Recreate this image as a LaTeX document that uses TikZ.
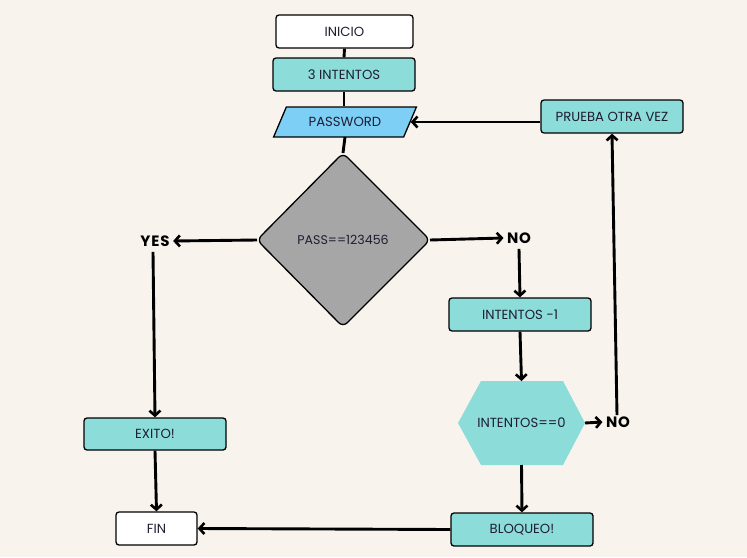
\documentclass[tikz,border=0pt]{standalone}
\usepackage{fontspec}
\setmainfont{Poppins}
\usetikzlibrary{arrows.meta,shapes.geometric}
\definecolor{bg}{RGB}{248,244,237}
\definecolor{teal}{RGB}{140,220,218}
\definecolor{sky}{RGB}{125,207,245}
\definecolor{graydia}{RGB}{166,166,166}
\definecolor{txt}{RGB}{30,30,50}
\tikzset{
  box/.style={draw=black, line width=1.3pt, rounded corners=3pt, minimum width=141pt, minimum height=33pt, inner sep=0pt, font=\fontsize{13.2}{15}\selectfont, text=txt},
  tealbox/.style={box, fill=teal},
  whitebox/.style={box, fill=white},
  lbl/.style={font=\fontsize{15}{17}\bfseries\addfontfeature{LetterSpace=6}\selectfont, text=black},
  conn/.style={line width=2.9pt, draw=black},
  arr/.style={conn, -{Straight Barb[length=5pt,width=11pt,line width=2.6pt]}},
}
\begin{document}
\begin{tikzpicture}[x=1pt,y=-1pt]
\fill[bg] (0,0) rectangle (747,557);
\useasboundingbox (0,0) rectangle (747,557);

% nodes
\node[whitebox, minimum width=137pt] (inicio) at (344.5,31.5) {INICIO};
\node[tealbox, minimum width=142pt] (intentos) at (344,74.5) {3 INTENTOS};
\node[trapezium, trapezium stretches=true, draw=black, line width=1.3pt, fill=sky, trapezium left angle=50, trapezium right angle=130, minimum width=143pt, minimum height=30pt, inner sep=0pt, font=\fontsize{13.2}{15}\selectfont, text=txt] (password) at (345,122) {PASSWORD};
\node[tealbox, minimum width=142pt] (prueba) at (612,116.5) {PRUEBA OTRA VEZ};

% diamond
\coordinate (dtop) at (343,153);
\coordinate (dleft) at (257,240);
\coordinate (dright) at (430,240);
\coordinate (dbot) at (343,327);
\fill[graydia, draw=black, line width=1.3pt, rounded corners=6pt] (dtop) -- (dright) -- (dbot) -- (dleft) -- cycle;
\node[font=\fontsize{12.6}{14}\selectfont, text=txt] (pass) at (343,240) {PASS==123456};

\node[lbl] (yes) at (155,241) {YES};
\node[lbl] (no1) at (519,238) {NO};
\node[tealbox, minimum width=142pt] (dec) at (520,314.5) {INTENTOS -1};

% hexagon
\fill[teal] (458,423) -- (481,381) -- (563,381) -- (585,423) -- (563,465) -- (481,465) -- cycle;
\coordinate (hexN) at (521.5,381);
\coordinate (hexE) at (585,423);
\coordinate (hexS) at (521.5,465);
\node[font=\fontsize{13.2}{15}\selectfont, text=txt] (hex) at (521.5,423) {INTENTOS==0};
\node[lbl] (no2) at (618,422) {NO};

\node[tealbox, minimum width=142pt] (bloqueo) at (522,529.5) {BLOQUEO!};
\node[whitebox, minimum width=81pt] (fin) at (156.5,528.5) {FIN};
\node[tealbox, minimum width=142pt, minimum height=32pt] (exito) at (155,434) {EXITO!};

% connectors
\draw[conn] (inicio.south) -- (intentos.north);
\draw[conn] (intentos.south) -- (password.north -| intentos.south);
\draw[conn] (345,137) -- (dtop);
\draw[arr] (dleft) -- (yes.east);
\draw[arr] (dright) -- (no1.west);
\draw[arr] (no1.south) ++(0,2) -- (dec.north);
\draw[arr] (prueba.west) ++(0,5.5) -- (password.east |- 0,122);
\draw[arr] (dec.south) -- (hexN);
\draw[arr] (hexE) -- (no2.west);
\draw[arr] (no2.north) ++(-1,2) -- (prueba.south);
\draw[arr] (hexS) -- (bloqueo.north);
\draw[arr] (bloqueo.west) -- (fin.east);
\draw[arr] (yes.south) ++(-2,2) -- (exito.north);
\draw[arr] (exito.south) -- (fin.north);
\end{tikzpicture}
\end{document}
